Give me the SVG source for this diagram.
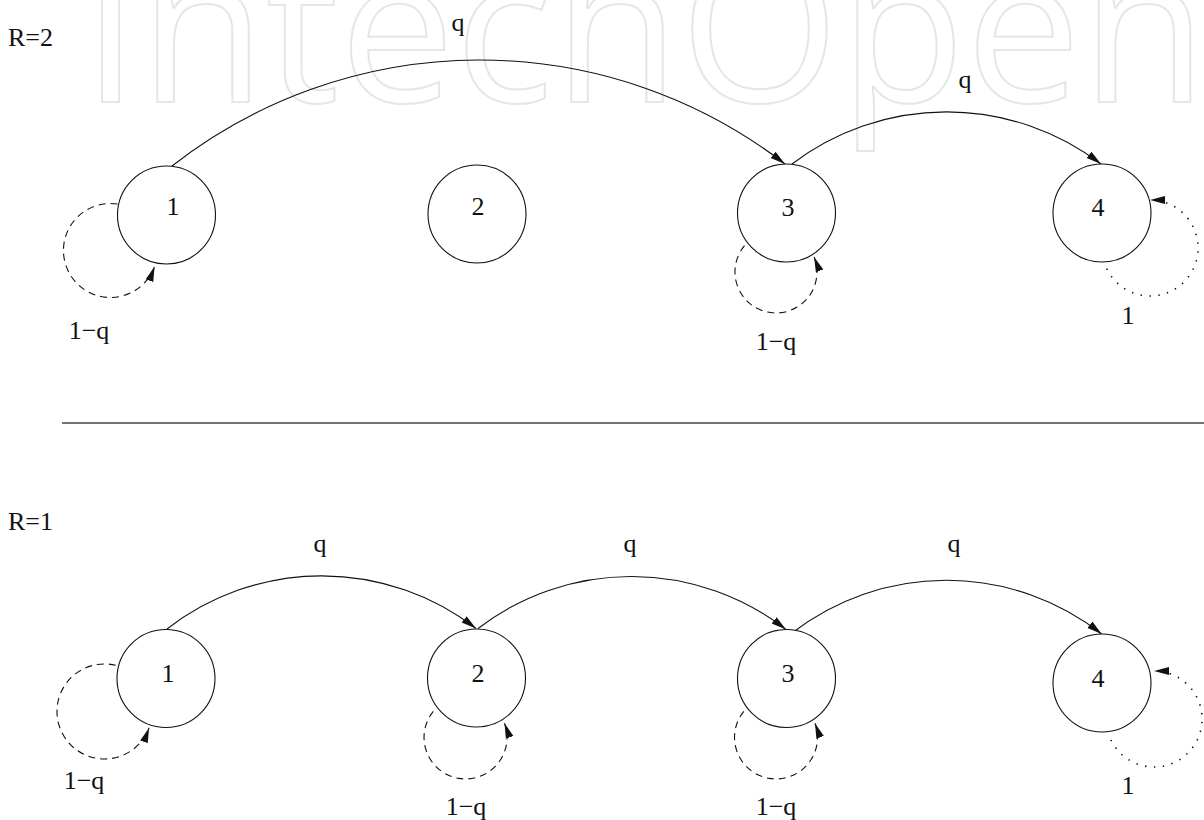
<svg xmlns="http://www.w3.org/2000/svg" width="1204" height="820" viewBox="0 0 1204 820">
<style>
.wm{font-family:"Open Sans",sans-serif;font-size:205px;fill:none;stroke:#e6e6e6;stroke-width:2}
.t{font-family:"Liberation Serif",serif;font-size:26px;fill:#111}
.m{text-anchor:middle}
.node{fill:#fff;stroke:#111;stroke-width:1.1}
.arc{fill:none;stroke:#111;stroke-width:1.1;marker-end:url(#ah)}
.dash{fill:none;stroke:#111;stroke-width:1.1;stroke-dasharray:7 5;marker-end:url(#ah)}
.dot{fill:none;stroke:#111;stroke-width:1.6;stroke-dasharray:1.4 7.5;marker-end:url(#ah)}
</style>
<defs>
<marker id="ah" markerUnits="userSpaceOnUse" markerWidth="16" markerHeight="10" viewBox="0 0 16 10" refX="15" refY="5" orient="auto">
<path d="M0,1 L15,5 L0,9 z" fill="#111"/>
</marker>
</defs>
<rect width="1204" height="820" fill="#fff"/>
<text class="wm" x="82" y="102" textLength="1125" lengthAdjust="spacing">IntechOpen</text>
<g id="labels">
<text class="t" x="8" y="46">R=2</text>
<text class="t" x="8" y="530">R=1</text>
</g>
<line id="separator" x1="62" y1="423" x2="1204" y2="423" stroke="#444" stroke-width="1.5"/>
<g id="connectors">
<path class="arc" d="M172,166 A500,500 0 0 1 785,164"/>
<path class="arc" d="M792,164 A255,255 0 0 1 1101,164"/>
<path class="dash" d="M117.5,204 A47,47 0 1 0 154.6,266.6"/>
<path class="dash" d="M744.5,245.7 A41,41 0 1 0 814.1,256.9"/>
<path class="dot" d="M1106.7,268.6 A48,48 0 1 0 1150,200"/>
<path class="arc" d="M167,629 A252,252 0 0 1 476,628.5"/>
<path class="arc" d="M478,628.5 A252,252 0 0 1 786,629.5"/>
<path class="arc" d="M792,633 A252,252 0 0 1 1101.7,634"/>
<path class="dash" d="M115.7,665.3 A47.5,47.5 0 1 0 149.1,727.7"/>
<path class="dash" d="M433.3,711.3 A41.5,41.5 0 1 0 504.5,723.2"/>
<path class="dash" d="M743.8,711.3 A41.5,41.5 0 1 0 815,723.2"/>
<path class="dot" d="M1110.9,740 A48,48 0 1 0 1154,671"/>
<text class="t m" x="458" y="31">q</text>
<text class="t m" x="965" y="88">q</text>
<text class="t m" x="89" y="339">1−q</text>
<text class="t m" x="776" y="350">1−q</text>
<text class="t m" x="1128" y="324">1</text>
<text class="t m" x="320" y="552">q</text>
<text class="t m" x="630" y="552">q</text>
<text class="t m" x="954" y="552">q</text>
<text class="t m" x="84" y="789">1−q</text>
<text class="t m" x="466" y="815">1−q</text>
<text class="t m" x="776" y="815">1−q</text>
<text class="t m" x="1128" y="794">1</text>
</g>
<g id="top-1"><circle class="node" cx="166.5" cy="215" r="49"/><text class="t m" x="173" y="215">1</text></g>
<g id="top-2"><circle class="node" cx="477" cy="214" r="49"/><text class="t m" x="478" y="215">2</text></g>
<g id="top-3"><circle class="node" cx="786.5" cy="213" r="49"/><text class="t m" x="788" y="216">3</text></g>
<g id="top-4"><circle class="node" cx="1102" cy="213" r="49"/><text class="t m" x="1098" y="216">4</text></g>
<g id="bottom-1"><circle class="node" cx="166" cy="678.5" r="49"/><text class="t m" x="168" y="682">1</text></g>
<g id="bottom-2"><circle class="node" cx="476.5" cy="678" r="49"/><text class="t m" x="478" y="682">2</text></g>
<g id="bottom-3"><circle class="node" cx="786.5" cy="678.5" r="49"/><text class="t m" x="788" y="682">3</text></g>
<g id="bottom-4"><circle class="node" cx="1102" cy="683" r="49"/><text class="t m" x="1098" y="687">4</text></g>
</svg>
